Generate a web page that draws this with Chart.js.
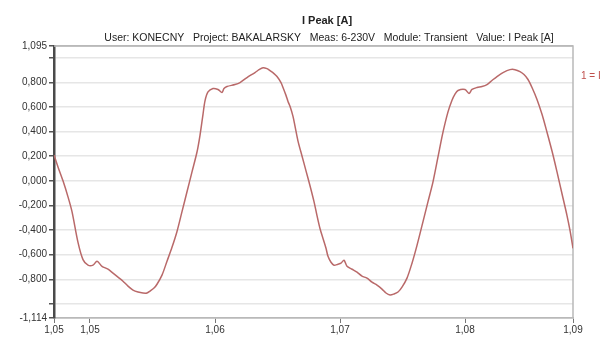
<!DOCTYPE html>
<html>
<head>
<meta charset="utf-8">
<script src="https://cdn.jsdelivr.net/npm/chart.js@4.4.1/dist/chart.umd.min.js"></script>
<style>
  html, body { margin: 0; padding: 0; background: #fff; }
  #wrap { width: 603px; height: 342px; }
</style>
</head>
<body>
<div id="wrap"><canvas id="graph"></canvas></div>
<script>
'use strict'

// time axis [s]
const timeValues = [
  1.04712, 1.04744, 1.04784, 1.04824, 1.04856, 1.04904, 1.04944, 1.04984, 1.05024, 1.05056,
  1.05096, 1.05144, 1.05184, 1.05224, 1.05264, 1.05304, 1.05344, 1.05384, 1.05424, 1.05456,
  1.05480, 1.05512, 1.05536, 1.05576, 1.05616, 1.05656, 1.05696, 1.05736, 1.05776, 1.05816,
  1.05856, 1.05880, 1.05904, 1.05920, 1.05944, 1.05984, 1.06024, 1.06056, 1.06072, 1.06096,
  1.06160, 1.06200, 1.06256, 1.06320, 1.06352, 1.06384, 1.06416, 1.06440, 1.06472, 1.06496,
  1.06528, 1.06544, 1.06568, 1.06584, 1.06600, 1.06624, 1.06640, 1.06664, 1.06696, 1.06728,
  1.06760, 1.06792, 1.06816, 1.06840, 1.06864, 1.06888, 1.06904, 1.06928, 1.06952, 1.06984,
  1.07008, 1.07032, 1.07056, 1.07096, 1.07136, 1.07176, 1.07216, 1.07256, 1.07296, 1.07336,
  1.07368, 1.07400, 1.07432, 1.07464, 1.07496, 1.07536, 1.07576, 1.07616, 1.07664, 1.07704,
  1.07744, 1.07784, 1.07824, 1.07864, 1.07896, 1.07920, 1.07944, 1.08000, 1.08032, 1.08056,
  1.08096, 1.08136, 1.08176, 1.08216, 1.08256, 1.08304, 1.08360, 1.08400, 1.08440, 1.08472,
  1.08504, 1.08536, 1.08576, 1.08616, 1.08656, 1.08696, 1.08736, 1.08776, 1.08816, 1.08840,
  1.08864
];

// I Peak [A]
const currentValues = [
  0.210, 0.113, 0.000, -0.130, -0.250, -0.500, -0.640, -0.685, -0.685, -0.653,
  -0.694, -0.718, -0.750, -0.782, -0.815, -0.855, -0.887, -0.903, -0.911, -0.911,
  -0.895, -0.871, -0.840, -0.766, -0.653, -0.540, -0.411, -0.250, -0.089, 0.073,
  0.234, 0.370, 0.540, 0.650, 0.722, 0.750, 0.742, 0.718, 0.750, 0.766,
  0.782, 0.798, 0.839, 0.879, 0.903, 0.919, 0.911, 0.895, 0.871, 0.847,
  0.798, 0.758, 0.694, 0.645, 0.605, 0.524, 0.444, 0.323, 0.202, 0.081,
  -0.040, -0.169, -0.282, -0.387, -0.468, -0.548, -0.613, -0.661, -0.685, -0.677,
  -0.669, -0.645, -0.694, -0.718, -0.742, -0.774, -0.790, -0.823, -0.847, -0.879,
  -0.911, -0.927, -0.919, -0.903, -0.863, -0.790, -0.669, -0.524, -0.331, -0.169,
  -0.008, 0.194, 0.395, 0.560, 0.655, 0.705, 0.734, 0.742, 0.710, 0.742,
  0.758, 0.766, 0.782, 0.815, 0.847, 0.879, 0.903, 0.903, 0.887, 0.863,
  0.823, 0.758, 0.661, 0.540, 0.395, 0.242, 0.073, -0.105, -0.282, -0.403,
  -0.548
];

const xMin = 1.04712;
const xMax = 1.08864;
const xTicks = [xMin, 1.05, 1.06, 1.07, 1.08, xMax];

const yMin = -1.114;
const yMax = 1.095;
const yTicks = [yMin, -1.0, -0.8, -0.6, -0.4, -0.2, 0, 0.2, 0.4, 0.6, 0.8, 1.0, yMax];
const yUnlabeled = [-1.0, 1.0];

const chartTitle = 'I Peak [A]';
const chartSubtitle = 'User: KONECNY   Project: BAKALARSKY   Meas: 6-230V   Module: Transient   Value: I Peak [A]';
const legendText = '1 = I Peak [A]';

const FONT = "'Liberation Sans', Arial, sans-serif";
const lineColor = 'rgb(185, 105, 105)';

function fmt(v, d) {
    return v.toFixed(d).replace('.', ',');
}

// frame, title lines and the little series label on the right
const decor = {
    id: 'decor',
    beforeDatasetsDraw(chart) {
        const { ctx, chartArea: a } = chart;
        ctx.save();
        ctx.strokeStyle = '#b9b9b9';
        ctx.lineWidth = 1.5;
        ctx.beginPath();
        ctx.moveTo(a.left, a.top);
        ctx.lineTo(a.right, a.top);
        ctx.lineTo(a.right, a.bottom);
        ctx.stroke();
        ctx.restore();
    },
    afterDraw(chart) {
        const { ctx, chartArea: a } = chart;
        ctx.save();
        ctx.textAlign = 'center';
        ctx.textBaseline = 'middle';
        ctx.fillStyle = '#222';
        ctx.font = 'bold 11px ' + FONT;
        ctx.fillText(chartTitle, a.left + 273, 21);
        ctx.font = '10.5px ' + FONT;
        ctx.fillText(chartSubtitle, a.left + 275, 38);
        ctx.textAlign = 'left';
        ctx.fillStyle = '#c0504d';
        ctx.font = '10px ' + FONT;
        ctx.fillText(legendText, a.right + 8, 76);
        ctx.restore();
    }
};

const points = timeValues.map((t, i) => ({ x: t, y: currentValues[i] }));

new Chart(document.getElementById('graph'), {
    type: 'line',
    data: {
        datasets: [{
            label: 'I Peak [A]',
            data: points,
            borderColor: lineColor,
            borderWidth: 1.5,
            pointRadius: 0,
            tension: 0.3,
            fill: false
        }]
    },
    options: {
        responsive: true,
        maintainAspectRatio: false,
        animation: false,
        layout: { padding: { left: 0, right: 30, top: 46, bottom: 0 } },
        plugins: {
            legend: { display: false },
            tooltip: { enabled: false }
        },
        scales: {
            x: {
                type: 'linear',
                min: xMin,
                max: xMax,
                afterBuildTicks: s => { s.ticks = xTicks.map(v => ({ value: v })); },
                afterFit: s => { s.height = 24; },
                ticks: {
                    autoSkip: false,
                    maxRotation: 0,
                    padding: 1,
                    color: '#333',
                    font: { family: FONT, size: 10 },
                    callback: v => fmt(v, 2)
                },
                grid: {
                    drawOnChartArea: false,
                    tickLength: 5,
                    tickColor: '#777'
                },
                border: { color: '#b9b9b9', width: 1.5 }
            },
            y: {
                min: yMin,
                max: yMax,
                afterBuildTicks: s => { s.ticks = yTicks.map(v => ({ value: v })); },
                afterFit: s => { s.width = 54; },
                ticks: {
                    autoSkip: false,
                    padding: 2,
                    color: '#333',
                    font: { family: FONT, size: 10 },
                    callback: v => yUnlabeled.some(u => Math.abs(u - v) < 1e-6) ? '' : fmt(v, 3)
                },
                grid: {
                    color: c => (c.tick && (c.tick.value === yMin || c.tick.value === yMax)) ? '#b9b9b9' : '#e6e6e6',
                    lineWidth: 1.5,
                    tickLength: 5,
                    tickColor: '#555'
                },
                border: { color: '#4a4a4a', width: 2.5 }
            }
        }
    },
    plugins: [decor]
});
</script>
</body>
</html>
